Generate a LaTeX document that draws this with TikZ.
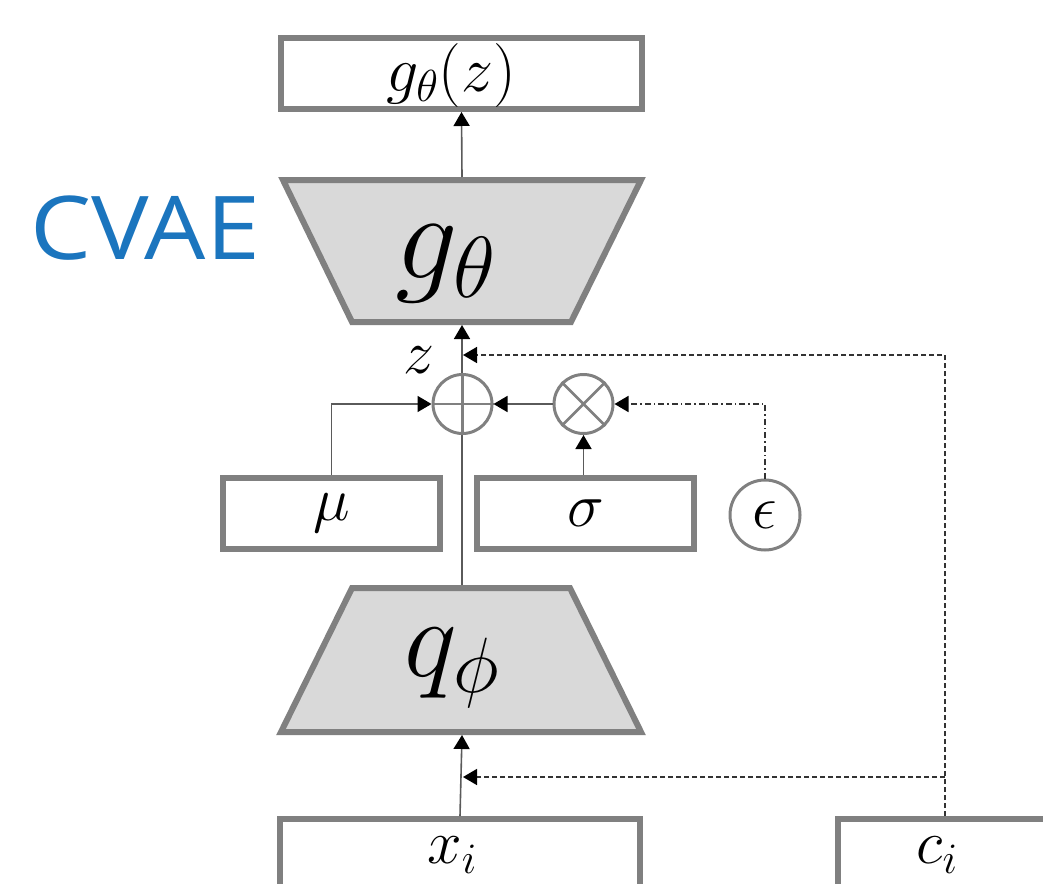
\RequirePackage{fix-cm}
\documentclass[tikz,border=0pt]{standalone}
\usepackage{fontspec}
\newfontfamily\cvaefont{Open Sans}
\usetikzlibrary{arrows.meta}
\definecolor{bordergray}{RGB}{128,128,128}
\definecolor{fillgray}{RGB}{217,217,217}
\definecolor{conngray}{RGB}{90,90,90}
\definecolor{cvaeblue}{RGB}{27,117,190}
\tikzset{
  box/.style={draw=bordergray, line width=6pt, fill=white, inner sep=0pt},
  trap/.style={draw=bordergray, line width=6pt, fill=fillgray, line join=miter},
  opcircle/.style={circle, draw=bordergray, line width=3pt, fill=white, inner sep=0pt, minimum size=59pt},
  opline/.style={draw=bordergray, line width=2.5pt},
  conn/.style={draw=conngray, line width=1.6pt, -{Triangle[length=14pt,width=16pt,fill=black,color=black]}},
  dashconn/.style={draw=black!80, line width=1.6pt, dash pattern=on 5pt off 3pt, -{Triangle[length=14pt,width=16pt,fill=black,color=black]}},
  dotdash/.style={draw=black!80, line width=1.6pt, dash pattern=on 6pt off 3pt on 1.5pt off 3pt, -{Triangle[length=14pt,width=16pt,fill=black,color=black]}},
  lbl/.style={font=\fontsize{62}{62}\selectfont},
}
\begin{document}
\begin{tikzpicture}[x=1pt,y=-1pt]
\useasboundingbox (0,0) rectangle (1043,883);
\clip (0,0) rectangle (1043,883);

% decoder and encoder trapezoids
\draw[trap] (283,180) -- (641,180) -- (571,322) -- (352,322) -- cycle;
\draw[trap] (352,588) -- (570,588) -- (641,732) -- (281,732) -- cycle;
\node[font=\fontsize{124}{124}\selectfont] (dec) at (446,264) {$g_\theta$};
\node[font=\fontsize{112}{112}\selectfont] (enc) at (452,668) {$q_\phi$};
\coordinate (dectop) at (462,177);
\coordinate (decbot) at (462,325);
\coordinate (enctop) at (462,585);
\coordinate (encbot) at (462,735);

% boxes
\node[box, minimum width=361pt, minimum height=71pt] (out) at (461.5,73.5) {};
\node[font=\fontsize{64}{64}\selectfont, inner sep=0pt] (outlbl) at (451,76) {$g_\theta(z)$};
\node[box, minimum width=217pt, minimum height=71pt, lbl] (mu) at (331.5,513.5) {$\mu$};
\node[box, minimum width=217pt, minimum height=71pt, lbl] (sigma) at (585.5,513.5) {$\sigma$};
\node[box, minimum width=360pt, minimum height=80pt] (xi) at (460,859) {};
\node[lbl, inner sep=0pt] (xilbl) at (452,855) {$x_i$};
\node[box, minimum width=214pt, minimum height=80pt] (ci) at (945,859) {};
\node[lbl, inner sep=0pt] (cilbl) at (937,855) {$c_i$};

% CVAE label
\node[text=cvaeblue, font=\cvaefont\fontsize{88}{88}\selectfont, inner sep=0pt, xscale=1.1] (title) at (145,228) {CVAE};

% main vertical line
\draw[conn] (xi.north) -- (encbot);
\draw[conn] (enctop) -- (decbot);
\draw[conn] (dectop) -- (out.south);

% operators
\node[opcircle] (sum) at (462.5,404) {};
\draw[opline] (sum.north) -- (sum.south) (sum.west) -- (sum.east);
\node[opcircle] (mul) at (583.5,404) {};
\draw[opline] (mul.north west) -- (mul.south east) (mul.north east) -- (mul.south west);
\node[circle, draw=bordergray, line width=3pt, minimum size=70pt, inner sep=0pt, lbl] (eps) at (765,515) {$\epsilon$};

\node[lbl, inner sep=0pt] (zl) at (419,360) {$z$};

% connectors
\draw[conn] (mu.north) |- (sum.west);
\draw[conn] (mul.south |- sigma.north) -- (mul.south);
\draw[conn] (mul.west) -- (sum.east);
\draw[dotdash] (eps.north) |- (mul.east);

\coordinate (zin) at (463,355);
\coordinate (xin) at (463,777);
\draw[dashconn] (ci.north) |- (zin);
\draw[dashconn] (ci.north |- xin) -- (xin);
\end{tikzpicture}
\end{document}
